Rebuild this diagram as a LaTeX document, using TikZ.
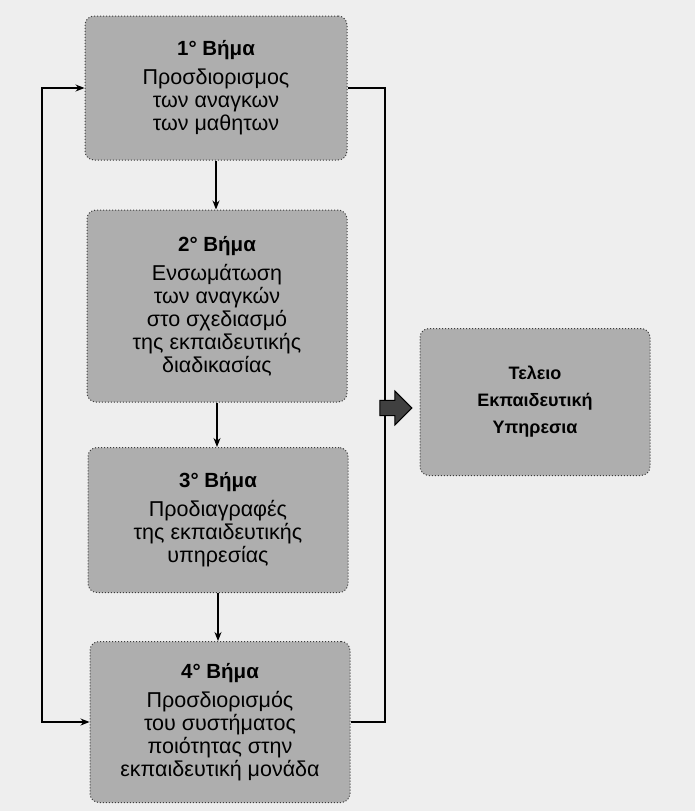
\documentclass[tikz,border=0pt]{standalone}
\usepackage{fontspec}
\setmainfont{Liberation Sans}
\usetikzlibrary{shapes.arrows,arrows.meta}
\definecolor{paper}{HTML}{EEEEEE}
\definecolor{boxfill}{HTML}{AEAEAE}
\definecolor{boxline}{HTML}{3C3C3C}
\tikzset{
  stepbox/.style={draw=boxline, dotted, line width=1pt, fill=boxfill,
    rounded corners=9pt, align=center, inner sep=4pt,
    font=\fontsize{21.5}{23}\selectfont},
  flow/.style={line width=1.1pt, -{Stealth[length=9pt,width=7pt]}},
  link/.style={line width=1.1pt}
}
\newcommand{\stephead}[1]{{\bfseries\fontsize{20.5}{24}\selectfont #1}\\[6pt]}
\begin{document}
\begin{tikzpicture}[x=1pt,y=-1pt]
  \fill[paper] (0,0) rectangle (695,811);
  \useasboundingbox (0,0) rectangle (695,811);

  \node[stepbox, minimum width=262pt, minimum height=144pt] (b1) at (216,88)
    {\stephead{1° Βήμα}Προσδιορισμος\\των αναγκων\\των μαθητων};
  \node[stepbox, minimum width=260pt, minimum height=192pt] (b2) at (217,306)
    {\stephead{2° Βήμα}Ενσωμάτωση\\των αναγκών\\στο σχεδιασμό\\της εκπαιδευτικής\\διαδικασίας};
  \node[stepbox, minimum width=260pt, minimum height=145pt] (b3) at (218,520)
    {\stephead{3° Βήμα}Προδιαγραφές\\της εκπαιδευτικής\\υπηρεσίας};
  \node[stepbox, minimum width=260pt, minimum height=161pt] (b4) at (220,722)
    {\stephead{4° Βήμα}Προσδιορισμός\\του συστήματος\\ποιότητας στην\\εκπαιδευτική μονάδα};
  \node[stepbox, minimum width=230pt, minimum height=147pt,
        font=\bfseries\fontsize{18}{27}\selectfont] (b5) at (535,402)
    {Τελειο\\Εκπαιδευτική\\Υπηρεσια};

  % downward flow between the steps
  \draw[flow] (b1.south) -- (b1.south |- b2.north);
  \draw[flow] (b2.south) -- (b2.south |- b3.north);
  \draw[flow] (b3.south) -- (b3.south |- b4.north);

  % feedback loop on the left
  \coordinate (lx) at (42,400);
  \draw[link, {Stealth[length=9pt,width=7pt]}-{Stealth[length=9pt,width=7pt]}]
    (b1.west) -| (lx) |- (b4.west);

  % collector on the right leading to the outcome
  \coordinate (rx) at (385,400);
  \draw[link] (b1.east) -| (rx) |- (b4.east);
  \node[single arrow, draw=black, fill=black!75, line width=1pt,
        minimum height=32pt, minimum width=34pt, single arrow head extend=3pt,
        inner sep=2pt] (fat) at (392,408) {};
\end{tikzpicture}
\end{document}
